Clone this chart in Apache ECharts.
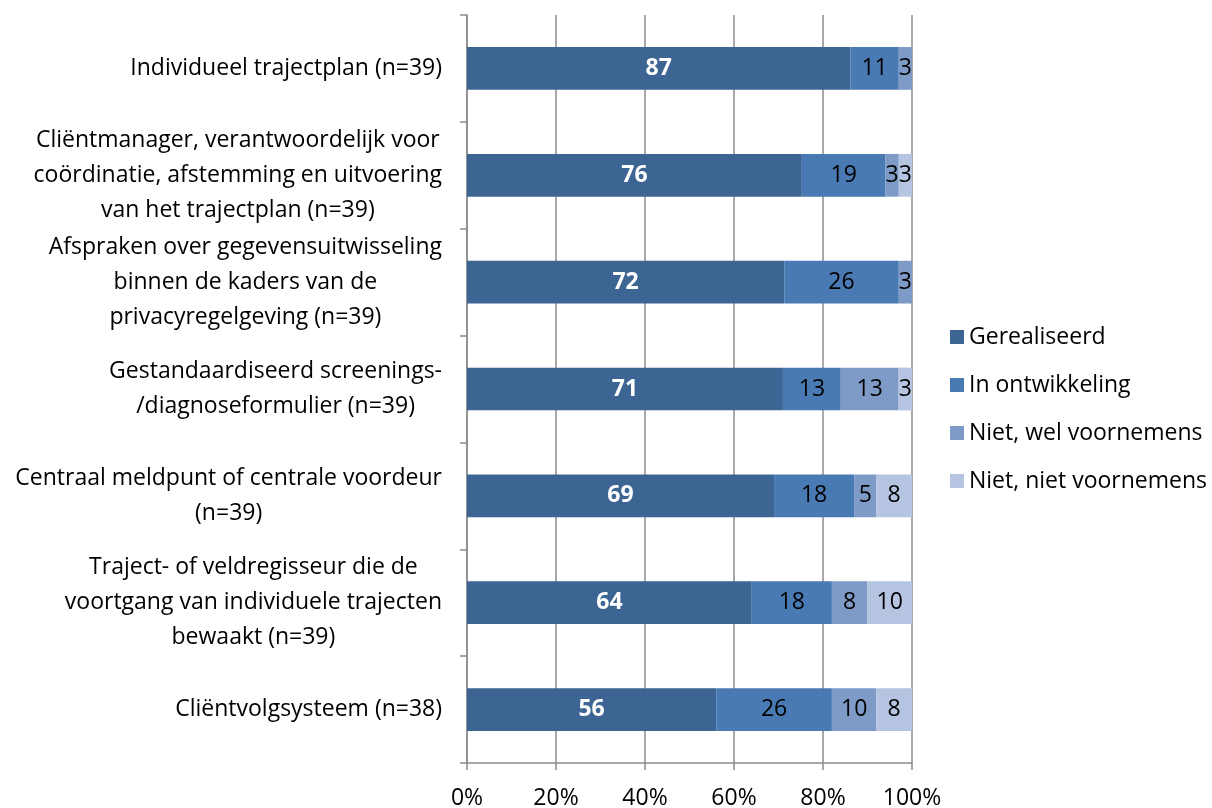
<!DOCTYPE html>
<html>
<head>
<meta charset="utf-8">
<script src="https://cdn.jsdelivr.net/npm/echarts@6/dist/echarts.min.js"></script>
<style>
  html, body { margin: 0; padding: 0; background: #fff; }
  #chart { width: 1212px; height: 808px; }
</style>
</head>
<body>
<div id="chart"></div>
<script>
// categories, top to bottom
var categories = [
  'Individueel trajectplan (n=39)',
  'Cliëntmanager, verantwoordelijk voor\ncoördinatie, afstemming en uitvoering\nvan het trajectplan (n=39)',
  'Afspraken over gegevensuitwisseling\nbinnen de kaders van de\nprivacyregelgeving (n=39)',
  'Gestandaardiseerd screenings-\n/diagnoseformulier (n=39)',
  'Centraal meldpunt of centrale voordeur\n(n=39)',
  'Traject- of veldregisseur die de\nvoortgang van individuele trajecten\nbewaakt (n=39)',
  'Cliëntvolgsysteem (n=38)'
]
var seriesNames = ['Gerealiseerd', 'In ontwikkeling', 'Niet, wel voornemens', 'Niet, niet voornemens']
var gerealiseerd = [87, 76, 72, 71, 69, 64, 56]
var inOntwikkeling = [11, 19, 26, 13, 18, 18, 26]
var welVoornemens = [3, 3, 3, 13, 5, 8, 10]
var nietVoornemens = [0, 3, 0, 3, 8, 10, 8]
var xTicks = [0, 20, 40, 60, 80, 100]

var colors = ['#3d6594', '#4a7ab3', '#7e9bc8', '#b5c4e0']
var fontName = 'Open Sans'
var fs = 23
var raw = [gerealiseerd, inOntwikkeling, welVoornemens, nietVoornemens]

// row totals (rounded values don't always add to 100)
var totals = categories.map(function (c, i) {
  return raw.reduce(function (s, arr) { return s + arr[i] }, 0)
})

var series = raw.map(function (arr, k) {
  return {
    name: seriesNames[k],
    type: 'bar',
    stack: 'total',
    barWidth: '40%',
    itemStyle: { color: colors[k] },
    data: arr.map(function (v, i) {
      return { value: v / totals[i] * 100, raw: v }
    }),
    label: {
      show: true,
      position: 'inside',
      fontFamily: fontName,
      fontSize: fs,
      fontWeight: k === 0 ? 'bold' : 'normal',
      color: k === 0 ? '#ffffff' : '#000000',
      formatter: function (p) {
        return p.data.raw ? String(p.data.raw) : ''
      }
    }
  }
})

var chart = echarts.init(document.getElementById('chart'))
chart.setOption({
  animation: false,
  textStyle: { fontFamily: fontName },
  grid: { left: 467, right: 300, top: 15, bottom: 45, outerBoundsMode: 'none' },
  legend: {
    orient: 'vertical',
    left: 945,
    top: 320,
    icon: 'rect',
    itemWidth: 14,
    itemHeight: 14,
    itemGap: 24,
    data: seriesNames,
    textStyle: { fontFamily: fontName, fontSize: fs, color: '#000', lineHeight: 24 }
  },
  xAxis: {
    type: 'value',
    min: 0,
    max: 100,
    interval: 20,
    axisLine: { show: true, lineStyle: { color: '#8c8c8c', width: 1.5 } },
    axisTick: { show: true, length: 7, lineStyle: { color: '#8c8c8c', width: 1.5 } },
    axisLabel: {
      margin: 24,
      fontFamily: fontName,
      fontSize: fs,
      color: '#000',
      formatter: function (v) { return xTicks.indexOf(v) >= 0 ? v + '%' : '' }
    },
    splitLine: { show: true, lineStyle: { color: '#8c8c8c', width: 1.5 } }
  },
  yAxis: {
    type: 'category',
    inverse: true,
    data: categories,
    axisLine: { show: true, lineStyle: { color: '#8c8c8c', width: 1.5 } },
    axisTick: { show: true, length: 7, lineStyle: { color: '#8c8c8c', width: 1.5 } },
    axisLabel: {
      margin: 25,
      align: 'right',
      formatter: function (v) {
        return v.split('\n').map(function (l) { return '{c|' + l + '}' }).join('\n')
      },
      rich: {
        c: { align: 'center', fontFamily: fontName, fontSize: fs, lineHeight: 35, color: '#000' }
      }
    }
  },
  series: series
})
</script>
</body>
</html>
